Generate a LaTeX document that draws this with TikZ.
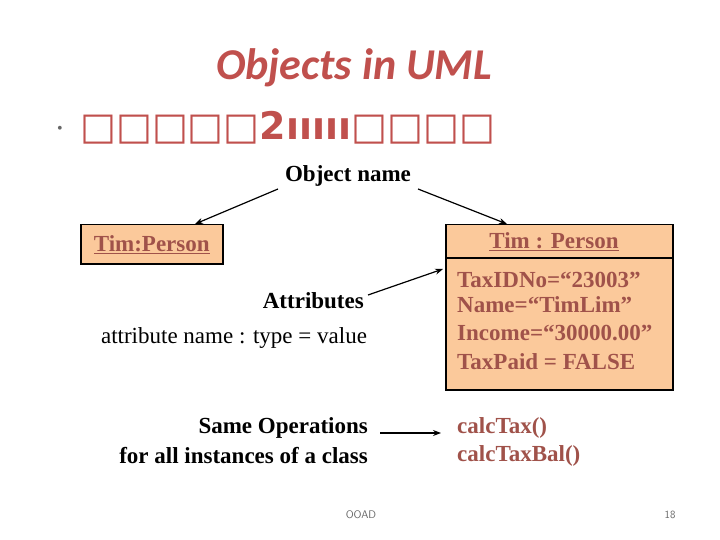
\documentclass[tikz,border=0pt]{standalone}
\usepackage{fontspec}
\setmainfont{Liberation Serif}
\newfontfamily\titlefont{Carlito}
\newfontfamily\symfont{DejaVu Sans}
\usetikzlibrary{arrows.meta}
\definecolor{tred}{HTML}{C0504D}
\definecolor{bred}{HTML}{A0524A}
\definecolor{bfill}{HTML}{FBC99B}
\tikzset{
  lbl/.style={inner sep=0pt,font=\fontsize{23}{25}\selectfont\bfseries},
  rtxt/.style={inner sep=0pt,anchor=west,text=bred,font=\fontsize{23}{25}\selectfont\bfseries},
  obox/.style={draw=black,line width=1.5pt,fill=bfill},
  arr/.style={-{Stealth[length=8pt,width=6pt]},line width=1.2pt}
}
\begin{document}
\begin{tikzpicture}[x=1pt,y=-1pt]
\useasboundingbox (0,0) rectangle (720,540);
\fill[white] (0,0) rectangle (720,540);
\node[inner sep=0pt,text=tred,font=\titlefont\fontsize{44}{48}\selectfont\bfseries\itshape] (title) at (354,68) {Objects in UML};
\node[inner sep=0pt,text=black!60,font=\fontsize{16}{16}\selectfont] (bul) at (60,130) {•};
\node[inner sep=0pt,anchor=west,text=tred,font=\symfont\fontsize{38}{40}\selectfont\bfseries] (garb) at (80,128) {□□□□□2ııııı□□□□};
\node[lbl] (oname) at (348,176) {Object name};
\node[obox,minimum width=142pt,minimum height=39pt,anchor=north west] (lbox) at (80,224) {};
\node[inner sep=0pt,text=bred,font=\fontsize{23}{25}\selectfont\bfseries] (ltxt) at (lbox.center) {\underline{Tim:Person}};
\node[obox,minimum width=227pt,minimum height=165pt,anchor=north west] (rbox) at (445,224) {};
\draw[line width=1.5pt] (445,258) -- (672,258);
\node[inner sep=0pt,text=bred,font=\fontsize{23}{25}\selectfont\bfseries] (rtitle) at (554,242) {\underline{Tim : Person}};
\node[rtxt] (a1) at (457,280) {TaxIDNo=“23003”};
\node[rtxt] (a2) at (457,305) {Name=“TimLim”};
\node[rtxt] (a3) at (457,333) {Income=“30000.00”};
\node[rtxt] (a4) at (457,362) {TaxPaid = FALSE};
\node[lbl,anchor=east] (attr) at (364,301) {Attributes};
\node[inner sep=0pt,font=\fontsize{23}{25}\selectfont] (attrn) at (234,338) {attribute name : type = value};
\node[lbl,anchor=east] (same) at (368,428) {Same Operations};
\node[lbl,anchor=east] (forall) at (368,456) {for all instances of a class};
\node[rtxt] (op1) at (457,428) {calcTax()};
\node[rtxt] (op2) at (457,456) {calcTaxBal()};
\coordinate (o1) at (278,189);
\coordinate (o2) at (418,189);
\coordinate (ac) at (368,295);
\draw[arr] (o1) -- (lbox.north -| 195,0);
\draw[arr] (o2) -- (rbox.north -| 507,0);
\draw[arr] (ac) -- (443,269);
\draw[arr] (380,433) -- (441,433);
\node[inner sep=0pt,text=black!60,font=\sffamily\fontsize{11}{11}\selectfont] (foot) at (361,515) {OOAD};
\node[inner sep=0pt,text=black!60,font=\sffamily\fontsize{11}{11}\selectfont] (pg) at (670,515) {18};
\end{tikzpicture}
\end{document}
